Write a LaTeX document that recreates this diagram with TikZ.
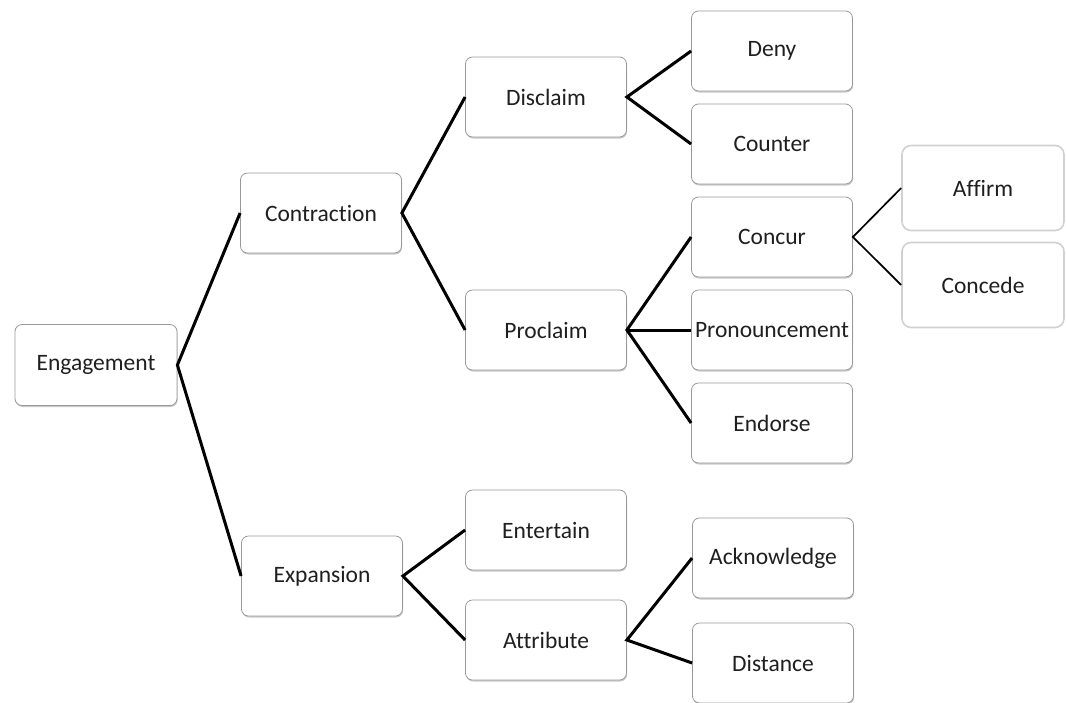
\documentclass[tikz,border=0pt]{standalone}
\usepackage{fontspec}
\setmainfont[Ligatures=NoCommon]{Carlito}
\usetikzlibrary{shadows}
\begin{document}
\begin{tikzpicture}[x=1pt,y=-1pt,
  box/.style={draw=black!40, line width=0.8pt, fill=white, rounded corners=7pt,
    minimum width=161pt, minimum height=80pt, inner sep=0pt, text=black!88,
    font=\fontsize{23.5}{26}\selectfont,
    drop shadow={shadow xshift=0.6pt, shadow yshift=-1.5pt, opacity=0.35, fill=black!60}},
  lightbox/.style={draw=black!18, line width=1.6pt, fill=white, rounded corners=9pt,
    minimum width=162pt, minimum height=85pt, inner sep=0pt, text=black!88,
    font=\fontsize{23.5}{26}\selectfont},
  link/.style={line width=3pt, black},
  thinlink/.style={line width=1.7pt, black}]
\useasboundingbox (0,0) rectangle (1066,702);
\fill[white] (0,0) rectangle (1066,702);

\node[box, minimum width=162pt, minimum height=81pt] (eng) at (96,365) {Engagement};
\node[box] (con) at (321,213) {Contraction};
\node[box] (exp) at (322,576) {Expansion};
\node[box] (dis) at (546,97) {Disclaim};
\node[box] (pro) at (546,330) {Proclaim};
\node[box] (ent) at (546,530) {Entertain};
\node[box] (att) at (546,640) {Attribute};
\node[box] (deny) at (772,51) {Deny};
\node[box] (cou) at (772,144) {Counter};
\node[box] (ccr) at (772,237) {Concur};
\node[box] (pron) at (772,330) {Pronouncement};
\node[box] (endo) at (772,423) {Endorse};
\node[box] (ack) at (773,558) {Acknowledge};
\node[box] (dist) at (773,663) {Distance};
\node[lightbox] (aff) at (983,188) {Affirm};
\node[lightbox] (cde) at (983,285) {Concede};

\draw[link] (con.west) -- (eng.east) -- (exp.west);
\draw[link] (dis.west) -- (con.east) -- (pro.west);
\draw[link] (ent.west) -- (exp.east) -- (att.west);
\draw[link] (deny.west) -- (dis.east) -- (cou.west);
\draw[link] (ccr.west) -- (pro.east) -- (endo.west);
\draw[link] (pro.east) -- (pron.west);
\draw[link] (ack.west) -- (att.east) -- (dist.west);
\draw[thinlink] (aff.west) -- (ccr.east) -- (cde.west);
\end{tikzpicture}
\end{document}
